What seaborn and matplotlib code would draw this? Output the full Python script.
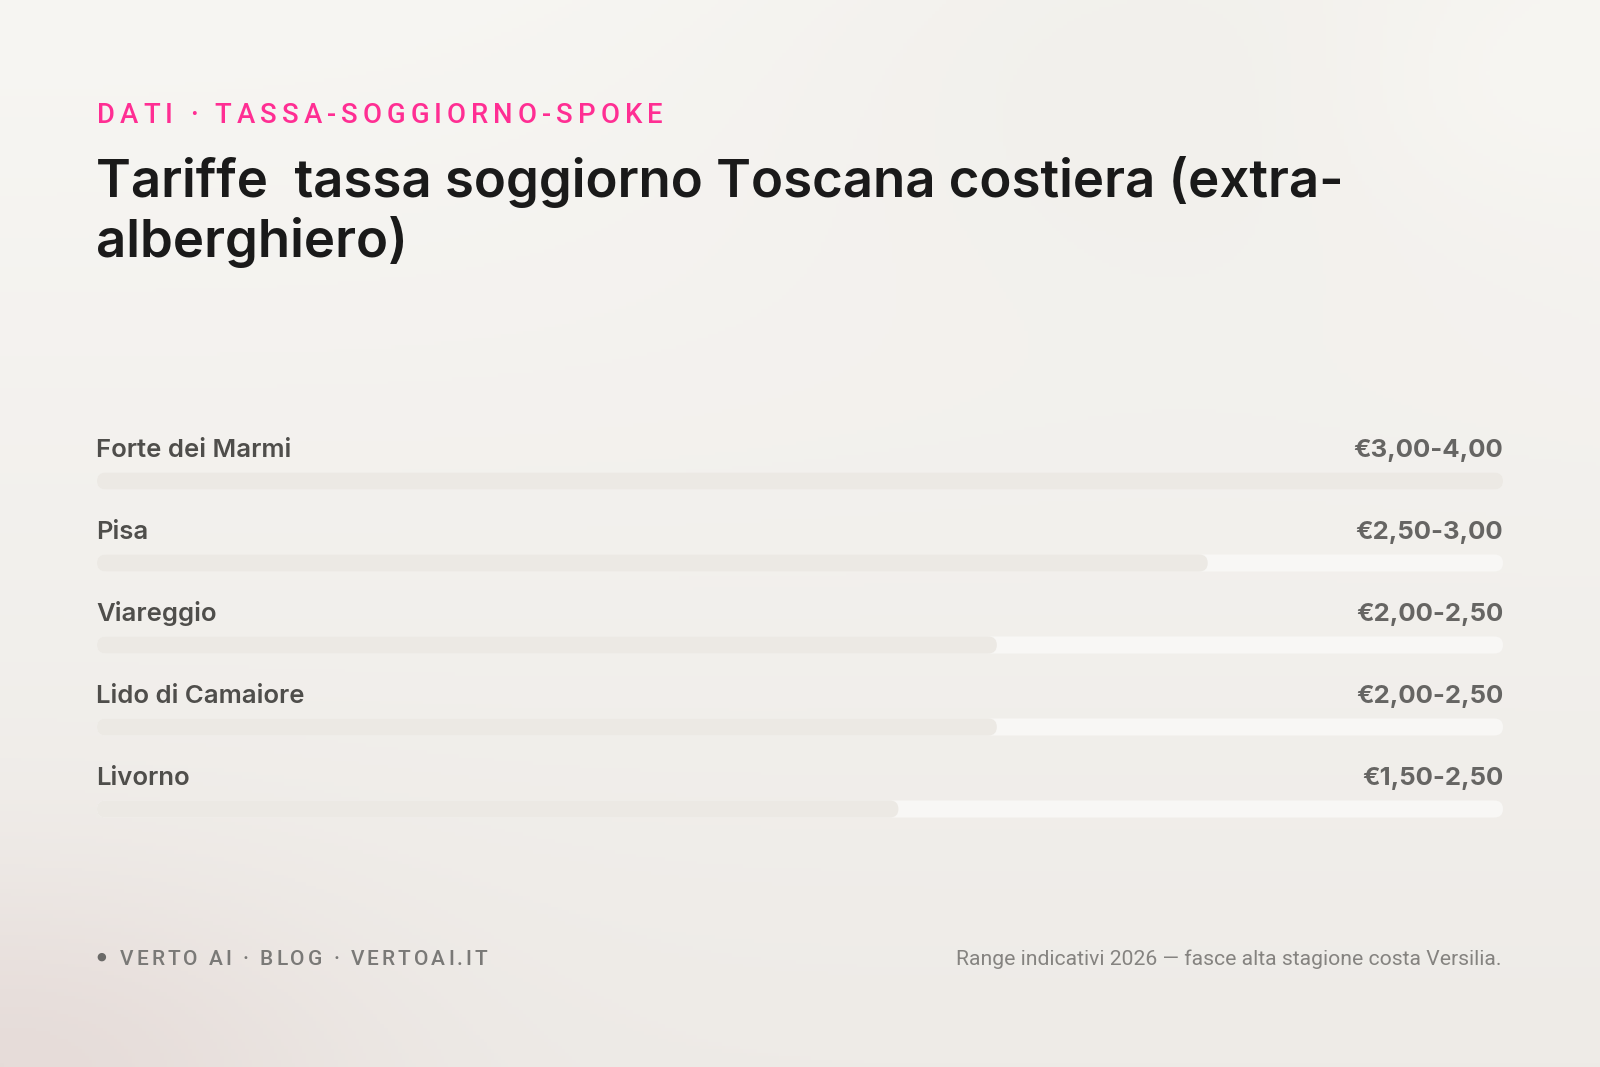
import numpy as np
import pandas as pd
import matplotlib
matplotlib.use("Agg")
import matplotlib.pyplot as plt
import seaborn as sns
from matplotlib.patches import FancyBboxPatch
from matplotlib.colors import to_rgb

# ---------------- data ----------------
cities = ["Forte dei Marmi", "Pisa", "Viareggio", "Lido di Camaiore", "Livorno"]
fill_pct = [100, 79, 64, 64, 57]
value_labels = ["€3,00-4,00", "€2,50-3,00", "€2,00-2,50", "€2,00-2,50", "€1,50-2,50"]

kicker = "DATI · TASSA-SOGGIORNO-SPOKE"
title_lines = ["Tariffe  tassa soggiorno Toscana costiera (extra-", "alberghiero)"]
footer_left = "VERTO AI · BLOG · VERTOAI.IT"
footer_right = "Range indicativi 2026 — fasce alta stagione costa Versilia."

# ---------------- style ----------------
sns.set_theme(style="white")
plt.rcParams["font.family"] = ["Inter", "DejaVu Sans"]

W, H = 1600, 1067
fig = plt.figure(figsize=(W / 100, H / 100), dpi=100)

# background gradient
bg = fig.add_axes([0, 0, 1, 1], zorder=-10)
yy, xx = np.mgrid[0:1:300j, 0:1:450j]
top = np.array(to_rgb("#f7f6f3"))
bot = np.array(to_rgb("#eeebe7"))
img = top[None, None, :] * (1 - yy[..., None]) + bot[None, None, :] * yy[..., None]
# greyer haze top-right
d = np.exp(-(((xx - 0.74) / 0.30) ** 2 + ((yy - 0.0) / 0.28) ** 2))
img -= d[..., None] * np.array([0.018, 0.020, 0.025])
# light glow far top-right
g = np.exp(-(((xx - 0.95) / 0.12) ** 2 + ((yy - 0.08) / 0.12) ** 2))
img += g[..., None] * np.array([0.012, 0.012, 0.012])
# pinkish bottom-left
p = np.exp(-(((xx - 0.0) / 0.22) ** 2 + ((yy - 1.0) / 0.18) ** 2))
img += p[..., None] * (np.array(to_rgb("#e6dcd9")) - bot)[None, None, :]
bg.imshow(np.clip(img, 0, 1), aspect="auto", extent=[0, 1, 0, 1], origin="upper")
bg.set_axis_off()

df = pd.DataFrame({"city": cities, "fill": fill_pct})
xmax = 100
df["track"] = xmax

L, R = 97 / W, 1503 / W
ax = fig.add_axes([L, 1 - 850 / H, R - L, 410 / H])
ax.patch.set_alpha(0)

bar_h = 17 / 82
sns.barplot(data=df, x="track", y="city", orient="h", color="#f8f7f5",
            width=bar_h, ax=ax, saturation=1, zorder=1)
n_track = len(ax.patches)
sns.barplot(data=df, x="fill", y="city", orient="h", color="#ece9e4",
            width=bar_h, ax=ax, saturation=1, zorder=2)
ax.set_xlim(0, xmax)
ax.set_ylim(4.5, -0.5)

# make rounded bars
px_per_x = (R - L) * W / xmax
px_per_y = (410 / H) * H / 5
r_x = 8.5 / px_per_x
aspect = (1 / px_per_y) / (1 / px_per_x)
for i, patch in enumerate(list(ax.patches)):
    x0, y0 = patch.get_x(), patch.get_y()
    w, h = patch.get_width(), patch.get_height()
    fc = patch.get_facecolor()
    patch.set_visible(False)
    fb = FancyBboxPatch((x0, y0), w, h,
                        boxstyle=f"round,pad=0,rounding_size={r_x}",
                        mutation_aspect=aspect, facecolor=fc, edgecolor="none",
                        zorder=1 if i < n_track else 2, clip_on=False)
    ax.add_patch(fb)

ax.set_axis_off()

# labels
for i, (c, v) in enumerate(zip(cities, value_labels)):
    ax.annotate(c, xy=(0, i), xytext=(-0.5, 17.3), textcoords="offset points",
                ha="left", va="baseline", fontsize=18.5, fontweight="semibold",
                color="#4f4e4b", annotation_clip=False)
    ax.annotate(v, xy=(xmax, i), xytext=(0, 17.3), textcoords="offset points",
                ha="right", va="baseline", fontsize=18.5, fontweight="bold",
                color="#666563", annotation_clip=False)

# spaced text helper
renderer = fig.canvas.get_renderer()


def text_width(s, **kw):
    t = fig.text(0, 0, s + "|", **kw)
    t2 = fig.text(0, 0, "|", **kw)
    wpx = t.get_window_extent(renderer).width - t2.get_window_extent(renderer).width
    t.remove(); t2.remove()
    return wpx


def spaced_text(x_px, y_px, s, spacing_px, **kw):
    for i, ch in enumerate(s):
        xo = x_px + text_width(s[:i], **kw) + i * spacing_px
        fig.text(xo / W, 1 - y_px / H, ch, ha="left", va="baseline", **kw)


spaced_text(97, 123, kicker, 5.1, fontsize=19.8, color="#ff2e93",
            family=["Roboto", "DejaVu Sans"], fontweight="medium")

for j, line in enumerate(title_lines):
    fig.text(96 / W, 1 - (197 + 60 * j) / H, line, ha="left", va="baseline",
             fontsize=38, fontweight="semibold", color="#1a1a1a")

# footer
fig.text(101 / W, 1 - 957 / H, "●", ha="center", va="center", fontsize=8,
         color="#6b6a68", family=["DejaVu Sans"])
spaced_text(120, 965, footer_left, 3.0, fontsize=15, color="#7a7977",
            family=["Roboto", "DejaVu Sans"], fontweight="medium")
fig.text(1502 / W, 1 - 965 / H, footer_right, ha="right", va="baseline",
         fontsize=15.2, color="#858380", family=["Roboto", "DejaVu Sans"])

fig.savefig("out.png", dpi=100)
